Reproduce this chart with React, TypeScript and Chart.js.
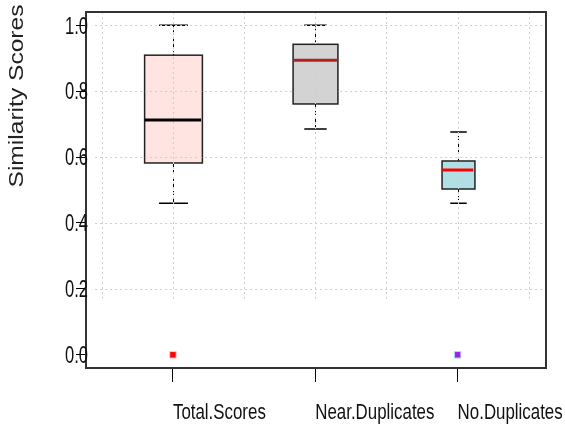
import React, { useEffect, useRef } from 'react';
import { Chart, registerables } from 'chart.js';
Chart.register(...registerables);

// ---- data ----
const categories = ['Total.Scores', 'Near.Duplicates', 'No.Duplicates'];
const whiskerLow = [0.46, 0.685, 0.46];
const q1 = [0.582, 0.761, 0.503];
const medians = [0.712, 0.894, 0.561];
const q3 = [0.909, 0.942, 0.588];
const whiskerHigh = [1.0, 1.0, 0.676];
const outliers: number[][] = [[0], [], [0]];
const yTicks = [0, 0.2, 0.4, 0.6, 0.8, 1.0];
const yGrid = [0.2, 0.4, 0.6, 0.8, 1.0];
const xGrid = [0.5, 1, 1.5, 2, 2.5, 3, 3.5];
const yLabel = 'Similarity Scores';

// ---- sizes / styles ----
const boxWidths = [0.406, 0.315, 0.231];
const boxFills = ['#ffe4e1', '#d3d3d3', '#b0e0e6'];
const medianColors = ['#000000', '#b22222', '#ff0000'];
const outlierFills = ['#ff0000', '#ff0000', '#a020f0'];
const outlierBorders = ['#ffc8c8', '#ffc8c8', '#b0e0e6'];
const labelFont = '23px "Liberation Sans", Arial, sans-serif';

const boxPlugin = {
  id: 'boxPlot',
  beforeDatasetsDraw(chart: any) {
    const { ctx, scales, chartArea } = chart;
    const x = scales.x;
    const y = scales.y;
    ctx.save();
    categories.forEach((_, i) => {
      const cx = Math.round(x.getPixelForValue(i + 1)) + 0.5;
      const half = x.getPixelForValue(i + 1 + boxWidths[i] / 2) - x.getPixelForValue(i + 1);
      const capHalf = half / 2;
      const yLo = y.getPixelForValue(whiskerLow[i]);
      const yQ1 = y.getPixelForValue(q1[i]);
      const yQ3 = y.getPixelForValue(q3[i]);
      const yHi = y.getPixelForValue(whiskerHigh[i]);
      ctx.strokeStyle = '#000';
      ctx.lineWidth = 1;
      ctx.setLineDash([4, 3]);
      ctx.beginPath();
      ctx.moveTo(cx, yQ3);
      ctx.lineTo(cx, yHi);
      ctx.moveTo(cx, yQ1);
      ctx.lineTo(cx, yLo);
      ctx.stroke();
      ctx.setLineDash([]);
      ctx.lineWidth = 1.5;
      ctx.beginPath();
      ctx.moveTo(cx - capHalf, yHi);
      ctx.lineTo(cx + capHalf, yHi);
      ctx.moveTo(cx - capHalf, yLo);
      ctx.lineTo(cx + capHalf, yLo);
      ctx.stroke();
      ctx.fillStyle = boxFills[i];
      ctx.fillRect(cx - half, yQ3, half * 2, yQ1 - yQ3);
      ctx.strokeStyle = '#222';
      ctx.lineWidth = 1.5;
      ctx.strokeRect(cx - half, yQ3, half * 2, yQ1 - yQ3);
    });
    // grid drawn over boxes
    ctx.strokeStyle = '#cfcfcf';
    ctx.lineWidth = 1;
    ctx.setLineDash([2, 3]);
    const gLeft = x.getPixelForValue(0.453);
    const gBottom = y.getPixelForValue(0.17);
    ctx.beginPath();
    yGrid.forEach((v) => {
      const py = Math.round(y.getPixelForValue(v)) + 0.5;
      ctx.moveTo(gLeft, py);
      ctx.lineTo(chartArea.right, py);
    });
    xGrid.forEach((v) => {
      const px = Math.round(x.getPixelForValue(v)) + 0.5;
      ctx.moveTo(px, chartArea.top);
      ctx.lineTo(px, gBottom);
    });
    ctx.stroke();
    ctx.setLineDash([]);
    categories.forEach((_, i) => {
      const cx = x.getPixelForValue(i + 1);
      const half = x.getPixelForValue(i + 1 + boxWidths[i] / 2) - cx;
      const yMed = y.getPixelForValue(medians[i]);
      ctx.strokeStyle = medianColors[i];
      ctx.lineWidth = 3;
      ctx.beginPath();
      ctx.moveTo(cx - half + 0.75, yMed);
      ctx.lineTo(cx + half - 0.75, yMed);
      ctx.stroke();
    });
    ctx.restore();
  },
  afterDraw(chart: any) {
    const { ctx, chartArea, scales } = chart;
    const x = scales.x;
    const y = scales.y;
    ctx.save();
    ctx.strokeStyle = '#333';
    ctx.lineWidth = 2;
    ctx.strokeRect(chartArea.left, chartArea.top, chartArea.right - chartArea.left, chartArea.bottom - chartArea.top);
    ctx.fillStyle = '#111';
    ctx.font = labelFont;
    // y tick labels (condensed)
    ctx.textAlign = 'right';
    ctx.textBaseline = 'middle';
    y.ticks.forEach((t: any) => {
      const py = y.getPixelForValue(t.value);
      ctx.save();
      ctx.translate(chartArea.left + 2, py + 2);
      ctx.scale(0.72, 1);
      ctx.fillText(Number(t.value).toFixed(1), 0, 0);
      ctx.restore();
    });
    // x tick labels (condensed)
    ctx.textAlign = 'left';
    ctx.textBaseline = 'alphabetic';
    ctx.font = '22.5px "Liberation Sans", Arial, sans-serif';
    x.ticks.forEach((t: any) => {
      const px = x.getPixelForValue(t.value);
      ctx.save();
      ctx.translate(px, chartArea.bottom + 51);
      ctx.scale(0.75, 1);
      ctx.fillText(categories[Math.round(t.value) - 1], 0, 0);
      ctx.restore();
    });
    // y axis title
    ctx.translate(18, 96);
    ctx.rotate(-Math.PI / 2);
    ctx.scale(1.26, 1);
    ctx.font = '19.5px "Liberation Sans", Arial, sans-serif';
    ctx.fillStyle = '#222';
    ctx.textAlign = 'center';
    ctx.textBaseline = 'middle';
    ctx.fillText(yLabel, 0, 0);
    ctx.restore();
  },
};

export default function App() {
  const ref = useRef<HTMLCanvasElement>(null);
  useEffect(() => {
    document.body.style.margin = '0';
    const pts: { x: number; y: number }[] = [];
    const fills: string[] = [];
    const borders: string[] = [];
    outliers.forEach((arr, i) =>
      arr.forEach((v) => {
        pts.push({ x: i + 1, y: v });
        fills.push(outlierFills[i]);
        borders.push(outlierBorders[i]);
      })
    );
    const chart = new Chart(ref.current!, {
      type: 'scatter',
      data: {
        datasets: [
          {
            data: pts,
            pointStyle: 'rect',
            pointRadius: 4.6,
            pointBackgroundColor: fills,
            pointBorderColor: borders,
            pointBorderWidth: 1,
          },
        ],
      },
      plugins: [boxPlugin],
      options: {
        animation: false,
        responsive: false,
        events: [],
        layout: { padding: { top: 12, right: 19, left: 0, bottom: 0 } },
        plugins: { legend: { display: false }, tooltip: { enabled: false } },
        scales: {
          x: {
            type: 'linear',
            min: 0.389,
            max: 3.621,
            afterBuildTicks: (s: any) => {
              s.ticks = categories.map((_, i) => ({ value: i + 1 }));
            },
            afterFit: (s: any) => {
              s.height = 58;
              s.paddingLeft = 0;
              s.paddingRight = 0;
            },
            border: { display: false },
            grid: { drawOnChartArea: false, drawTicks: true, tickLength: 14, tickColor: '#000', tickWidth: 1 },
            ticks: { display: false },
          },
          y: {
            type: 'linear',
            min: -0.04,
            max: 1.04,
            afterBuildTicks: (s: any) => {
              s.ticks = yTicks.map((v) => ({ value: v }));
            },
            afterFit: (s: any) => {
              s.width = 86;
              s.paddingTop = 0;
              s.paddingBottom = 0;
            },
            border: { display: false },
            grid: { drawOnChartArea: false, drawTicks: true, tickLength: 10, tickColor: '#000', tickWidth: 1 },
            ticks: { display: false },
          },
        },
      },
    } as any);
    return () => chart.destroy();
  }, []);
  return <canvas ref={ref} width={565} height={426} style={{ display: 'block' }} />;
}
